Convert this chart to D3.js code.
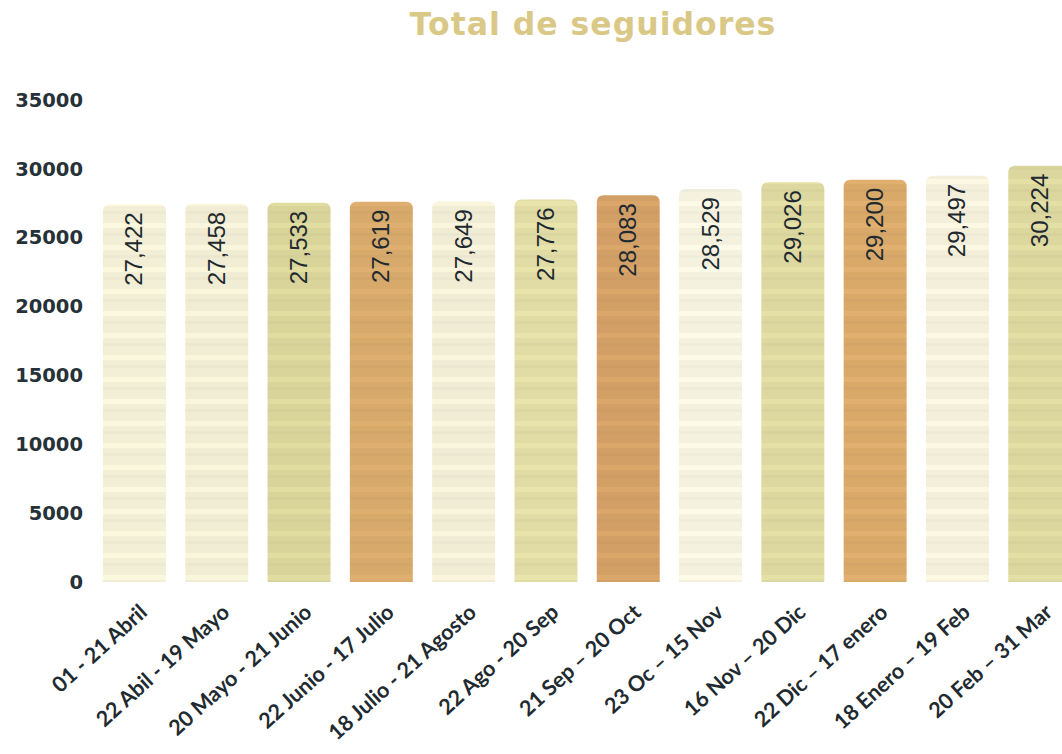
<!DOCTYPE html>
<html><head><meta charset="utf-8">
<script src="https://cdn.jsdelivr.net/npm/d3@7"></script>
<style>body{margin:0;background:#fff}svg{display:block}</style>
</head><body>
<svg id="c" width="1062" height="754"></svg>
<script>
const categories = ["01 - 21 Abril","22 Abil - 19 Mayo","20 Mayo - 21 Junio","22 Junio - 17 Julio","18 Julio - 21 Agosto","22 Ago - 20 Sep","21 Sep – 20 Oct","23 Oc – 15 Nov","16 Nov – 20 Dic","22 Dic – 17 enero","18 Enero – 19 Feb","20 Feb – 31 Mar"];
const values = [27422,27458,27533,27619,27649,27776,28083,28529,29026,29200,29497,30224];
const yTicks = [0,5000,10000,15000,20000,25000,30000,35000];
const barColors = ["#f2efd6","#f1edd4","#d9d49a","#d7a96b","#f1ecd4","#e1dca6","#d2a066","#f4f1df","#dcd8a0","#d9a96a","#f3efda","#dcd79e"];

const svg = d3.select("#c");
const x = d3.scaleBand().domain(categories).range([93.3, 1080.9]).paddingInner(0.235).paddingOuter(0.1175);
const y = d3.scaleLinear().domain([0,35000]).range([582,100]);

// stripe texture
const defs = svg.append("defs");
barColors.forEach((c,i)=>{
  const p = defs.append("pattern").attr("id","tex"+i).attr("patternUnits","userSpaceOnUse")
    .attr("width",8).attr("height",22);
  p.append("rect").attr("width",8).attr("height",22).attr("fill",c);
  p.append("rect").attr("y",3).attr("width",8).attr("height",5).attr("fill",d3.color(c).brighter(0.1));
  p.append("rect").attr("y",13).attr("width",8).attr("height",3).attr("fill",d3.color(c).darker(0.06));
});

svg.append("text").attr("x",593).attr("y",35).attr("text-anchor","middle")
  .attr("font-family","'DejaVu Sans', sans-serif").attr("font-weight","bold")
  .attr("letter-spacing",1)
  .attr("font-size",31.5).attr("fill","#dac887").text("Total de seguidores");

// y axis
const yAxis = svg.append("g").attr("transform","translate(83,0)")
  .call(d3.axisLeft(y).tickValues(yTicks).tickSize(0).tickPadding(0).tickFormat(d=>String(d)));
yAxis.select(".domain").remove();
yAxis.selectAll("text").attr("font-family","'DejaVu Sans', sans-serif")
  .attr("font-weight","bold").attr("font-size",19.5).attr("fill","#263238");

const r = 7;
function barPath(d){
  const x0 = x(d.c), w = x.bandwidth(), y0 = y(d.v), y1 = y(0);
  return `M${x0},${y1}V${y0+r}Q${x0},${y0} ${x0+r},${y0}H${x0+w-r}Q${x0+w},${y0} ${x0+w},${y0+r}V${y1}Z`;
}
const data = categories.map((c,i)=>({c, v: values[i], i}));
svg.append("g").selectAll("path").data(data).join("path")
  .attr("d",barPath).attr("fill",d=>`url(#tex${d.i})`);

svg.append("g").selectAll("text").data(data).join("text")
  .attr("transform",d=>`translate(${x(d.c)+x.bandwidth()/2+8},${y(d.v)+8}) rotate(-90)`)
  .attr("text-anchor","end")
  .attr("font-family","'Liberation Sans', Arial, sans-serif").attr("font-size",24)
  .attr("fill","#1e2a30").text(d=>d3.format(",")(d.v));

// x axis
const xAxis = svg.append("g").attr("transform","translate(0,594)")
  .call(d3.axisBottom(x).tickSize(0).tickPadding(0));
xAxis.select(".domain").remove();
xAxis.selectAll("text")
  .attr("font-family","Lato, 'Open Sans', sans-serif").attr("font-weight","bold")
  .attr("font-size",21.5).attr("fill","#1f2b30")
  .attr("text-anchor","end").attr("dy","0.7em")
  .attr("transform","translate(4,9) rotate(-42)");
</script>
</body></html>
